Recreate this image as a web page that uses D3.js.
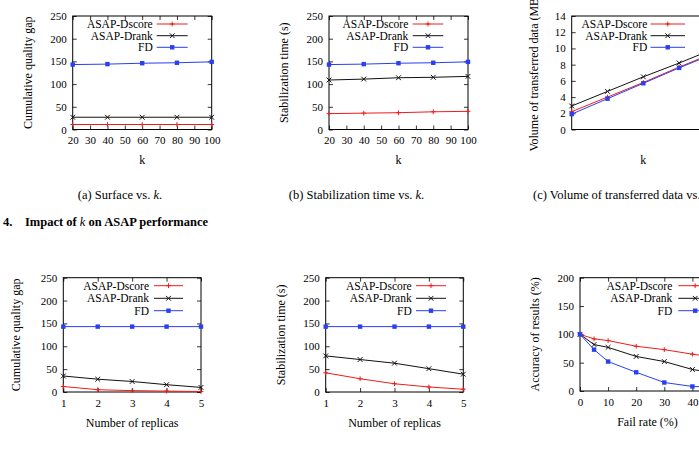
<!DOCTYPE html>
<html><head><meta charset="utf-8">
<script src="https://cdn.jsdelivr.net/npm/d3@7"></script>
<style>
body{margin:0;background:#fff}
svg{display:block}
text{font-family:"Liberation Serif","Times New Roman",serif;fill:#000}
</style>
</head><body>
<svg id="chart" width="699" height="452"></svg>
<script>
// ---------- data ----------
const seriesNames = ["ASAP-Dscore", "ASAP-Drank", "FD"];
const kValues = [20, 40, 60, 80, 100];
const kTicks = [20, 30, 40, 50, 60, 70, 80, 90, 100];
const replicaValues = [1, 2, 3, 4, 5];
const replicaTicks = [1, 2, 3, 4, 5];
const failRates = [0, 5, 10, 20, 30, 40, 50];
const failTicks = [0, 10, 20, 30, 40, 50];
const gapTicks = [0, 50, 100, 150, 200, 250];
const timeTicks = [0, 50, 100, 150, 200, 250];
const volumeTicks = [0, 2, 4, 6, 8, 10, 12, 14];
const accuracyTicks = [0, 50, 100, 150, 200];

// (a) cumulative quality gap vs k
const gapK_Dscore = [11, 11, 11, 11, 11];
const gapK_Drank = [27, 27, 27, 27, 27];
const gapK_FD = [143, 144, 146, 147, 149];
// (b) stabilization time vs k
const timeK_Dscore = [35, 36, 37, 39, 40];
const timeK_Drank = [109, 111, 114, 115, 117];
const timeK_FD = [143, 144, 146, 147, 149];
// (c) volume of transferred data vs k
const volK_Dscore = [2.2, 4.0, 5.8, 7.7, 9.5];
const volK_Drank = [2.9, 4.7, 6.5, 8.2, 10.0];
const volK_FD = [1.9, 3.8, 5.7, 7.6, 9.4];
// (d) cumulative quality gap vs replicas
const gapR_Dscore = [12, 5, 3, 2, 1];
const gapR_Drank = [35, 28, 23, 16, 10];
const gapR_FD = [143, 143, 143, 143, 143];
// (e) stabilization time vs replicas
const timeR_Dscore = [42, 29, 18, 11, 6];
const timeR_Drank = [79, 71, 63, 51, 39];
const timeR_FD = [143, 143, 143, 143, 143];
// (f) accuracy vs fail rate
const acc_Dscore = [100, 92, 89, 79, 73, 65, 58];
const acc_Drank = [100, 82, 77, 61, 52, 38, 30];
const acc_FD = [100, 73, 52, 33, 15, 8, 7];

const colors = ["#f01c1c", "#111111", "#2a3ff0"];
const markers = ["plus", "cross", "square"];

// ---------- layout ----------
const panels = [
  {x0: 72.7, x1: 211.7, y0: 16, y1: 129.5, xd: [20, 100], yd: [0, 250], xt: kTicks, yt: gapTicks, xs: kValues,
   series: [gapK_Dscore, gapK_Drank, gapK_FD], ylab: "Cumulative quality gap", xlab: "k",
   ylx: 28, xly: 160, xtl: true, legText: 152.7, legL: 156.7, legR: 187.7, legY: [24, 35.7, 47.3],
   cap: ["(a) Surface vs. ", "k", "."], capX: 120, capAnchor: "middle"},
  {x0: 329, x1: 468, y0: 16, y1: 129.5, xd: [20, 100], yd: [0, 250], xt: kTicks, yt: timeTicks, xs: kValues,
   series: [timeK_Dscore, timeK_Drank, timeK_FD], ylab: "Stabilization time (s)", xlab: "k",
   ylx: 284, xly: 160, xtl: true, legText: 408.3, legL: 412.7, legR: 443.3, legY: [24, 35.7, 47.3],
   cap: ["(b) Stabilization time vs. ", "k", "."], capX: 356.5, capAnchor: "middle"},
  {x0: 571.7, x1: 715, y0: 16, y1: 129.5, xd: [20, 100], yd: [0, 14], xt: [], yt: volumeTicks, xs: kValues,
   series: [volK_Dscore, volK_Drank, volK_FD], ylab: "Volume of transferred data (MB)", xlab: "k",
   ylx: 534, xly: 160, xtl: false, legText: 647.3, legL: 650.5, legR: 685, legY: [24, 35.7, 47.3],
   cap: ["(c) Volume of transferred data vs. ", "k", "."], capX: 533, capAnchor: "start"},
  {x0: 63.3, x1: 201, y0: 277.7, y1: 392, xd: [1, 5], yd: [0, 250], xt: replicaTicks, yt: gapTicks, xs: replicaValues,
   series: [gapR_Dscore, gapR_Drank, gapR_FD], ylab: "Cumulative quality gap", xlab: "Number of replicas",
   ylx: 16, xly: 422.7, xtl: true, legText: 149, legL: 154, legR: 183, legY: [285.7, 298.3, 310.7]},
  {x0: 325.7, x1: 463.3, y0: 277.7, y1: 392, xd: [1, 5], yd: [0, 250], xt: replicaTicks, yt: timeTicks, xs: replicaValues,
   series: [timeR_Dscore, timeR_Drank, timeR_FD], ylab: "Stabilization time (s)", xlab: "Number of replicas",
   ylx: 280.7, xly: 422.7, xtl: true, legText: 411.7, legL: 416, legR: 446, legY: [285.7, 298.3, 310.7]},
  {x0: 580, x1: 720.5, y0: 277.7, y1: 391, xd: [0, 50], yd: [0, 200], xt: failTicks, yt: accuracyTicks, xs: failRates,
   series: [acc_Dscore, acc_Drank, acc_FD], ylab: "Accuracy of results (%)", xlab: "Fail rate (%)",
   ylx: 535, xly: 421.7, xtl: true, legText: 672.3, legL: 678.3, legR: 712, legY: [285.7, 298.3, 310.7]}
];

const svg = d3.select("#chart");

function drawMarker(g, type, x, y, color) {
  const s = 2.4;
  if (type === "plus") {
    g.append("path").attr("d", `M${x - s},${y}H${x + s}M${x},${y - s}V${y + s}`)
      .attr("stroke", color).attr("stroke-width", 1).attr("fill", "none");
  } else if (type === "cross") {
    g.append("path").attr("d", `M${x - s},${y - s}L${x + s},${y + s}M${x - s},${y + s}L${x + s},${y - s}`)
      .attr("stroke", color).attr("stroke-width", 1).attr("fill", "none");
  } else {
    g.append("rect").attr("x", x - 2.2).attr("y", y - 2.2).attr("width", 4.4).attr("height", 4.4)
      .attr("fill", color);
  }
}

panels.forEach(p => {
  const x = d3.scaleLinear().domain(p.xd).range([p.x0, p.x1]);
  const y = d3.scaleLinear().domain(p.yd).range([p.y1, p.y0]);
  const g = svg.append("g");
  const tl = 4;

  // left axis with ticks inside
  const yAxis = d3.axisLeft(y).tickValues(p.yt).tickSize(-tl).tickPadding(6).tickFormat(d3.format("d"));
  const ya = g.append("g").attr("transform", `translate(${p.x0},0)`).call(yAxis);
  // right mirror ticks
  const yr = g.append("g").attr("transform", `translate(${p.x1},0)`)
    .call(d3.axisRight(y).tickValues(p.yt).tickSize(-tl).tickFormat(""));
  // bottom axis
  const xAxis = d3.axisBottom(x).tickValues(p.xt).tickSize(-tl).tickPadding(7).tickFormat(d3.format("d"));
  const xa = g.append("g").attr("transform", `translate(0,${p.y1})`).call(xAxis);
  const xt = g.append("g").attr("transform", `translate(0,${p.y0})`)
    .call(d3.axisTop(x).tickValues(p.xt).tickSize(-tl).tickFormat(""));
  [ya, yr, xa, xt].forEach(a => {
    a.select(".domain").remove();
    a.selectAll(".tick line").attr("stroke", "#000").attr("stroke-width", 0.8);
    a.selectAll("text").style("font-family", '"Liberation Serif", serif').style("font-size", "11px").attr("fill", "#000");
  });
  if (!p.xtl) xa.selectAll("text").remove();

  // frame
  g.append("rect").attr("x", p.x0).attr("y", p.y0).attr("width", p.x1 - p.x0).attr("height", p.y1 - p.y0)
    .attr("fill", "none").attr("stroke", "#000").attr("stroke-width", 1);

  // series
  p.series.forEach((vals, i) => {
    const pts = vals.map((v, j) => [p.xs[j], v]);
    g.append("path").datum(pts)
      .attr("d", d3.line().x(d => x(d[0])).y(d => y(d[1])))
      .attr("fill", "none").attr("stroke", colors[i]).attr("stroke-width", 1);
    pts.forEach(d => drawMarker(g, markers[i], x(d[0]), y(d[1]), colors[i]));
  });

  // legend
  seriesNames.forEach((name, i) => {
    const ly = p.legY[i];
    g.append("text").attr("x", p.legText).attr("y", ly).attr("dy", "0.35em")
      .attr("text-anchor", "end").style("font-size", "11.5px").text(name);
    g.append("line").attr("x1", p.legL).attr("x2", p.legR).attr("y1", ly).attr("y2", ly)
      .attr("stroke", colors[i]).attr("stroke-width", 1);
    drawMarker(g, markers[i], (p.legL + p.legR) / 2, ly, colors[i]);
  });

  // axis titles
  const yc = (p.y0 + p.y1) / 2;
  g.append("text").attr("transform", `translate(${p.ylx},${yc}) rotate(-90)`)
    .attr("text-anchor", "middle").attr("dy", "0.35em").style("font-size", "12px").text(p.ylab);
  g.append("text").attr("x", (p.x0 + Math.min(p.x1, 715)) / 2).attr("y", p.xly).attr("dy", "0.35em")
    .attr("text-anchor", "middle").style("font-size", "12px").text(p.xlab);

  if (p.cap) {
    const t = g.append("text").attr("x", p.capX).attr("y", 195).attr("dy", "0.35em")
      .attr("text-anchor", p.capAnchor).style("font-size", "12.5px");
    t.append("tspan").text(p.cap[0]);
    t.append("tspan").style("font-style", "italic").text(p.cap[1]);
    t.append("tspan").text(p.cap[2]);
  }
});

// figure heading
const h = svg.append("text").attr("x", 3).attr("y", 222).attr("dy", "0.35em")
  .style("font-size", "12.5px").style("font-weight", "bold");
h.append("tspan").text("4.");
h.append("tspan").attr("x", 25).text("Impact of ");
h.append("tspan").style("font-style", "italic").style("font-weight", "normal").text("k");
h.append("tspan").text(" on ASAP performance");
</script>
</body></html>
